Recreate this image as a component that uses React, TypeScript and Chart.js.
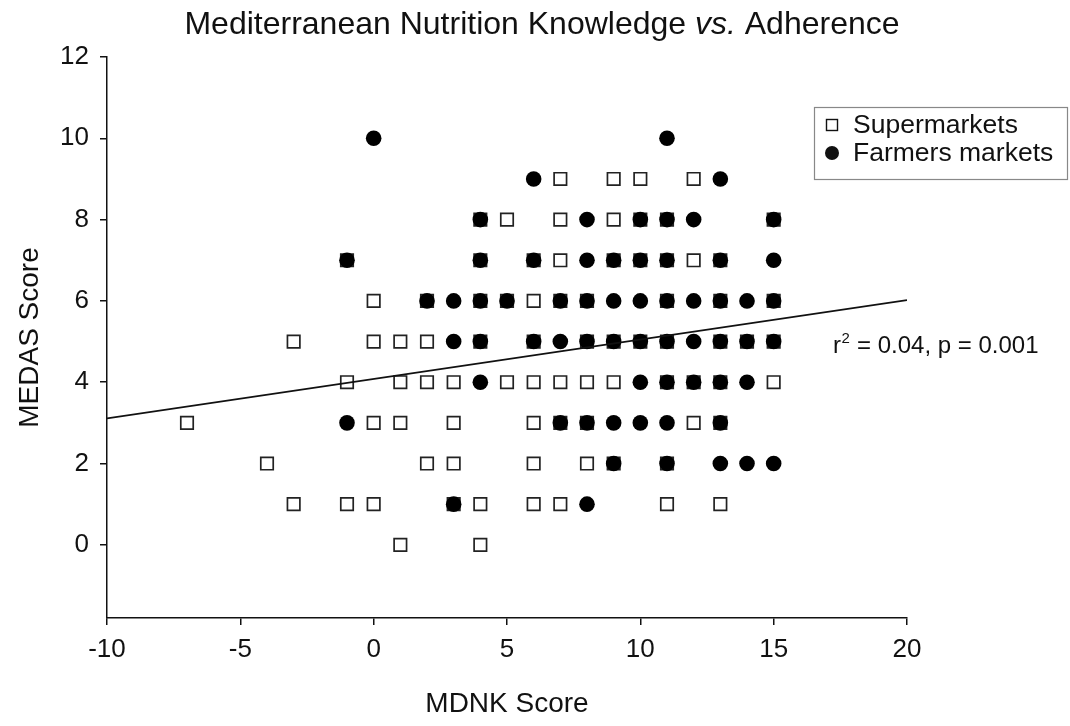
import React, { useEffect, useRef } from "react";
import { Chart, registerables } from "chart.js";

Chart.register(...registerables);

// MEDAS score rows (y) and the MDNK scores (x) observed at each row
const medasRows = [10, 9, 8, 7, 6, 5, 4, 3, 2, 1, 0];
const supermarketMdnk = [
  [],
  [7, 9, 10, 12],
  [4, 5, 7, 9, 10, 11, 15],
  [-1, 4, 6, 7, 9, 10, 11, 12, 13],
  [0, 2, 4, 5, 6, 7, 8, 11, 13, 15],
  [-3, 0, 1, 2, 4, 6, 8, 9, 10, 11, 13, 14, 15],
  [-1, 1, 2, 3, 5, 6, 7, 8, 9, 11, 12, 13, 15],
  [-7, 0, 1, 3, 6, 7, 8, 12, 13],
  [-4, 2, 3, 6, 8, 9, 11],
  [-3, -1, 0, 3, 4, 6, 7, 11, 13],
  [1, 4],
];
const farmersMdnk = [
  [0, 11],
  [6, 13],
  [4, 8, 10, 11, 12, 15],
  [-1, 4, 6, 8, 9, 10, 11, 13, 15],
  [2, 3, 4, 5, 7, 8, 9, 10, 11, 12, 13, 14, 15],
  [3, 4, 6, 7, 8, 9, 10, 11, 12, 13, 14, 15],
  [4, 10, 11, 12, 13, 14],
  [-1, 7, 8, 9, 10, 11, 13],
  [9, 11, 13, 14, 15],
  [3, 8],
  [],
];
const fitX = [-10, 20];
const fitY = [3.11, 6.02];
const xTicks = [-10, -5, 0, 5, 10, 15, 20];
const yTicks = [0, 2, 4, 6, 8, 10, 12];
const seriesNames = ["Supermarkets", "Farmers markets"];
const statText = "= 0.04, p = 0.001";

const FONT = "'Liberation Sans', Arial, Helvetica, sans-serif";
const INK = "#111";

function toPoints(rows: number[][]) {
  const pts: { x: number; y: number }[] = [];
  rows.forEach((xs, i) => xs.forEach((x) => pts.push({ x, y: medasRows[i] })));
  return pts;
}

const textPlugin = {
  id: "customText",
  afterDraw(chart: any) {
    const ctx = chart.ctx as CanvasRenderingContext2D;
    const area = chart.chartArea;
    ctx.save();
    ctx.fillStyle = INK;
    // Title with italic "vs."
    const parts = [
      { t: "Mediterranean Nutrition Knowledge ", f: `32px ${FONT}` },
      { t: "vs.", f: `italic 32px ${FONT}` },
      { t: " Adherence", f: `32px ${FONT}` },
    ];
    let total = 0;
    parts.forEach((p) => {
      ctx.font = p.f;
      total += ctx.measureText(p.t).width;
    });
    let x = 542 - total / 2;
    ctx.textBaseline = "alphabetic";
    ctx.textAlign = "left";
    parts.forEach((p) => {
      ctx.font = p.f;
      ctx.fillText(p.t, x, 34);
      x += ctx.measureText(p.t).width;
    });

    // Axis titles
    ctx.font = `28px ${FONT}`;
    ctx.textAlign = "center";
    ctx.textBaseline = "middle";
    ctx.fillText("MDNK Score", (area.left + area.right) / 2, 704);
    ctx.save();
    ctx.translate(30, (area.top + area.bottom) / 2);
    ctx.rotate(-Math.PI / 2);
    ctx.fillText("MEDAS Score", 0, 0);
    ctx.restore();

    // Stat text
    ctx.textAlign = "left";
    ctx.textBaseline = "alphabetic";
    ctx.font = `24px ${FONT}`;
    ctx.fillText("r", 833, 353);
    const rw = ctx.measureText("r").width;
    ctx.font = `15px ${FONT}`;
    ctx.fillText("2", 833 + rw + 0.5, 343);
    const sw = ctx.measureText("2").width;
    ctx.font = `24px ${FONT}`;
    ctx.fillText(" " + statText, 833 + rw + sw + 1, 353);

    // Legend
    ctx.strokeStyle = "#888";
    ctx.lineWidth = 1.2;
    ctx.strokeRect(814.5, 107.5, 253, 72);
    ctx.strokeStyle = INK;
    ctx.lineWidth = 1.4;
    ctx.fillStyle = "#fff";
    ctx.fillRect(826.5, 119.5, 11, 11);
    ctx.strokeRect(826.5, 119.5, 11, 11);
    ctx.fillStyle = INK;
    ctx.beginPath();
    ctx.arc(832, 153, 7, 0, Math.PI * 2);
    ctx.fill();
    ctx.font = `26.5px ${FONT}`;
    ctx.textBaseline = "middle";
    ctx.fillText(seriesNames[0], 853, 126);
    ctx.fillText(seriesNames[1], 853, 154);
    ctx.restore();
  },
};

export default function App() {
  const ref = useRef<HTMLCanvasElement | null>(null);
  useEffect(() => {
    if (!ref.current) return;
    const chart = new Chart(ref.current, {
      type: "scatter",
      data: {
        datasets: [
          {
            type: "line",
            label: "fit",
            data: fitX.map((x, i) => ({ x, y: fitY[i] })),
            borderColor: INK,
            borderWidth: 1.6,
            pointRadius: 0,
            fill: false,
            order: 0,
          } as any,
          {
            label: seriesNames[1],
            data: toPoints(farmersMdnk),
            pointStyle: "circle",
            pointRadius: 7.8,
            backgroundColor: "#000",
            borderColor: "#000",
            borderWidth: 0,
            order: 1,
          },
          {
            label: seriesNames[0],
            data: toPoints(supermarketMdnk),
            pointStyle: "rect",
            pointRadius: 8.8,
            backgroundColor: "#fff",
            borderColor: "#222",
            borderWidth: 1.7,
            order: 2,
          },
        ],
      },
      options: {
        animation: false,
        responsive: false,
        devicePixelRatio: 1,
        events: [],
        layout: { padding: { top: 57, right: 163, left: 0, bottom: 0 } },
        plugins: {
          legend: { display: false },
          title: { display: false },
          tooltip: { enabled: false },
        },
        scales: {
          x: {
            type: "linear",
            min: -10,
            max: 20,
            afterFit: (s: any) => {
              s.height = 108;
            },
            afterBuildTicks: (s: any) => {
              s.ticks = xTicks.map((v) => ({ value: v }));
            },
            grid: {
              display: true,
              drawOnChartArea: false,
              drawTicks: true,
              tickLength: 7,
              color: INK,
              lineWidth: 1.5,
            },
            border: { display: true, color: INK, width: 1.5 },
            ticks: {
              color: INK,
              font: { family: FONT, size: 26 },
              padding: 9,
              maxRotation: 0,
            },
          },
          y: {
            type: "linear",
            min: -1.8,
            max: 12,
            afterFit: (s: any) => {
              s.width = 107;
            },
            afterBuildTicks: (s: any) => {
              s.ticks = yTicks.map((v) => ({ value: v }));
            },
            grid: {
              display: true,
              drawOnChartArea: false,
              drawTicks: true,
              tickLength: 7,
              color: INK,
              lineWidth: 1.5,
            },
            border: { display: true, color: INK, width: 1.5 },
            ticks: {
              color: INK,
              font: { family: FONT, size: 26 },
              padding: 11,
            },
          },
        },
      },
      plugins: [textPlugin],
    } as any);
    return () => chart.destroy();
  }, []);
  return (
    <div style={{ position: "fixed", left: 0, top: 0, width: 1070, height: 726, background: "#fff" }}>
      <canvas ref={ref} width={1070} height={726} style={{ width: 1070, height: 726, display: "block" }} />
    </div>
  );
}
